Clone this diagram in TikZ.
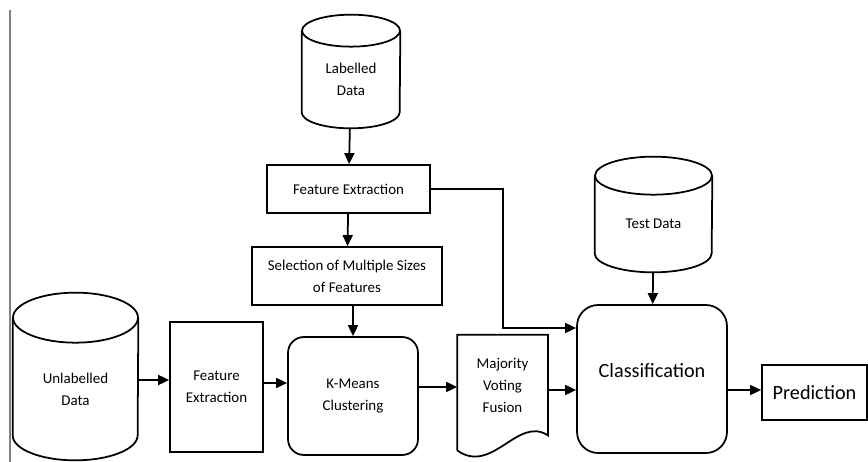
\documentclass[tikz,border=0pt]{standalone}
\usepackage{fontspec}
\setmainfont{Carlito}
\usetikzlibrary{arrows.meta}
\tikzset{
  store/.style={shape=rectangle, inner sep=0pt, align=center, font=\fontsize{8.5}{12.5}\selectfont},
  procbox/.style={shape=rectangle, draw, line width=1pt, inner sep=0pt, align=center, font=\fontsize{8.5}{12.5}\selectfont},
  roundbox/.style={procbox, rounded corners=9pt},
  flow/.style={-{Triangle[length=2.2mm,width=2mm]}, line width=1pt}
}
\begin{document}
\begin{tikzpicture}[x=0.02cm, y=-0.02cm]
\useasboundingbox (0,0) rectangle (868,462);
\draw[gray, line width=0.8pt] (10,10) -- (10,462);
\node[store, minimum width=1.96cm, minimum height=1.94cm] (lab) at (351,79.5) {Labelled\\Data};
\node[procbox, minimum width=3.26cm, minimum height=0.96cm] (fe1) at (348.5,189) {Feature Extraction};
\node[procbox, minimum width=3.8cm, minimum height=1.16cm] (sel) at (347,276) {Selection of Multiple Sizes\\of Features};
\node[roundbox, minimum width=2.6cm, minimum height=2.36cm] (km) at (353,396) {K-Means\\Clustering};
\node[store, minimum width=2.5cm, minimum height=2.84cm] (unl) at (75.5,389) {Unlabelled\\Data};
\node[procbox, minimum width=1.86cm, minimum height=2.6cm] (fe2) at (216.5,387) {Feature\\Extraction};
\node[procbox, draw=none, minimum width=1.78cm, minimum height=1.98cm] (vote) at (502.5,385) {Majority\\Voting\\Fusion};
\node[store, minimum width=2.34cm, minimum height=1.92cm] (test) at (653.5,224) {Test Data};
\node[roundbox, rounded corners=12pt, minimum width=3cm, minimum height=2.96cm, text depth=0.36cm, font=\fontsize{11.5}{13}\selectfont] (cls) at (652,379) {Classification};
\node[procbox, minimum width=2.1cm, minimum height=1.1cm, font=\fontsize{11.5}{13}\selectfont] (pred) at (814.5,392.5) {Prediction};
\coordinate (join) at (503,328);
% cylinders round the data stores
\foreach \n/\rx/\ry in {lab/0.98/0.32, unl/1.25/0.5, test/1.17/0.38} {
  \draw[line width=1pt] (\n.north) ellipse [x radius=\rx cm, y radius=\ry cm];
  \draw[line width=1pt] (\n.north west) -- ([yshift=\ry cm]\n.south west)
    arc[start angle=180, end angle=360, x radius=\rx cm, y radius=\ry cm] -- (\n.north east);
}
% document outline with wavy bottom
\draw[line width=1pt] ([yshift=-0.3cm]vote.south west) -- (vote.north west) -- (vote.north east) -- (vote.south east)
  .. controls +(-30,-20) and +(35,25) .. ([yshift=-0.3cm]vote.south west);
\draw[flow] (lab) -- (fe1);
\draw[flow] (fe1) -- (sel);
\draw[flow] (sel.south -| km) -- (km);
\draw[flow] (unl.east |- 0,380) -- (fe2.west |- 0,380);
\draw[flow] (fe2.east |- 0,383) -- (km.west |- 0,383);
\draw[flow] (km.east |- 0,387) -- (vote.west |- 0,387);
\draw[flow] (vote.east |- 0,390) -- (cls.west |- 0,390);
\draw[flow] (fe1.east) -| (join) -- (cls.west |- join);
\draw[flow] (test) -- (cls);
\draw[flow] (cls.east |- 0,390) -- (pred.west |- 0,390);
\end{tikzpicture}
\end{document}
